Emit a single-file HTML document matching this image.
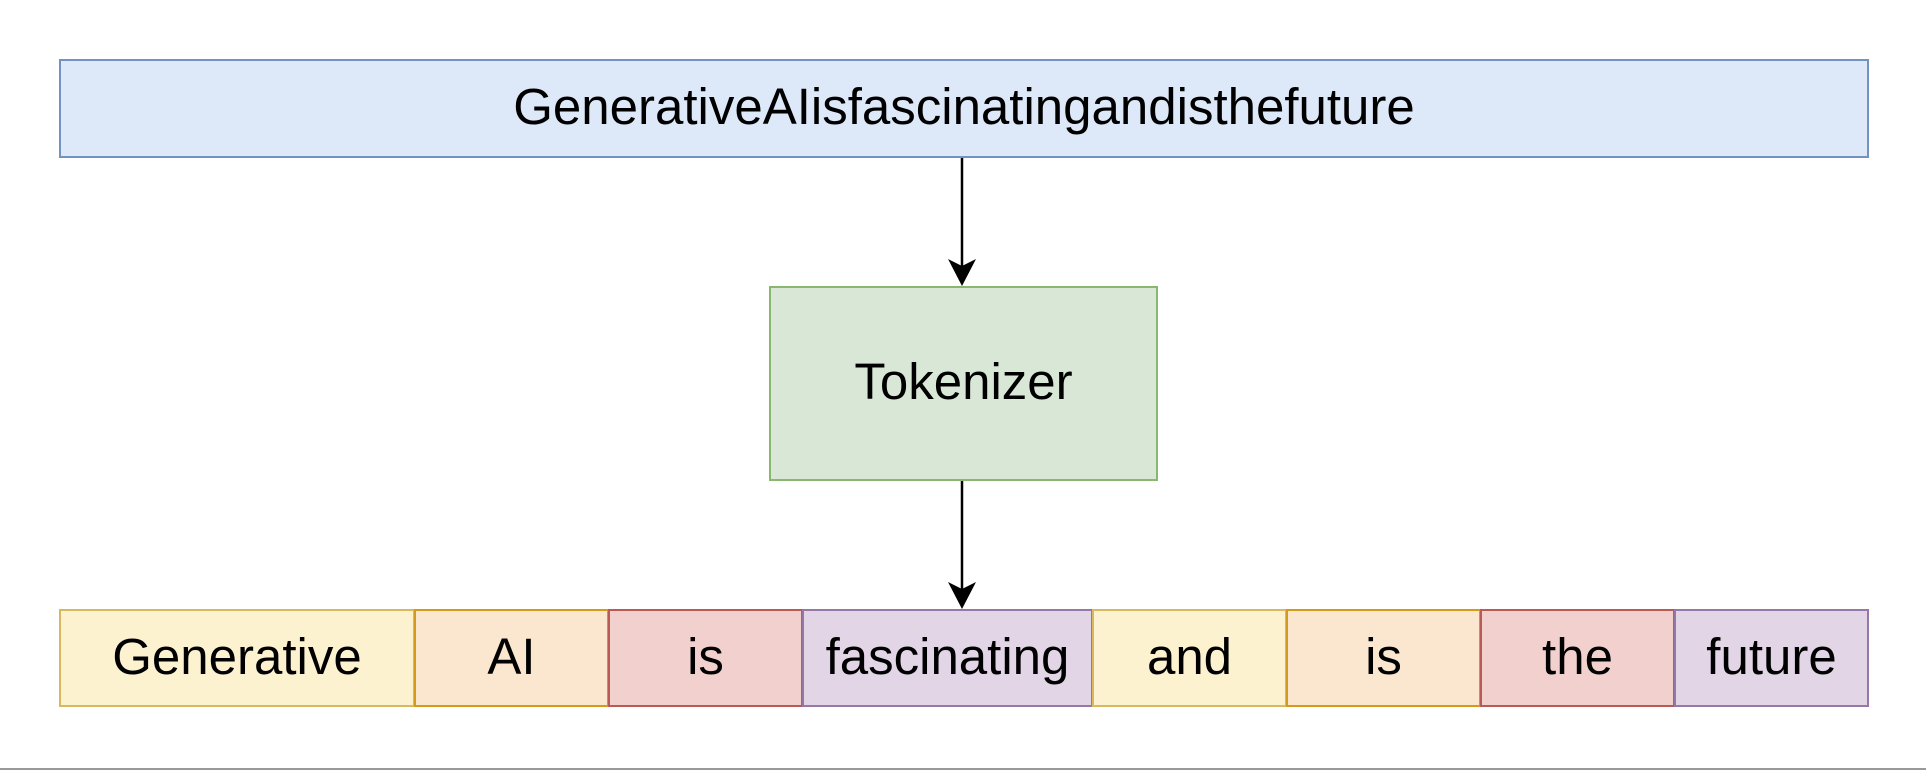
<!DOCTYPE html>
<html><head><style>
body{margin:0;width:1926px;height:770px;background:#fff;overflow:hidden;position:relative;font-family:"Liberation Sans",Arial,sans-serif;}
.b{position:absolute;box-sizing:border-box;border:2.5px solid;display:flex;align-items:center;justify-content:center;font-size:51px;color:#000;padding-bottom:4px;}
</style></head><body>
<div class="b" style="left:59px;top:59px;width:1810px;height:99px;background:#dde8f9;border-color:#7391c1;">GenerativeAIisfascinatingandisthefuture</div>
<div class="b" style="left:769px;top:286px;width:389px;height:195px;background:#d9e7d6;border-color:#8ab670;">Tokenizer</div>
<div class="b" style="left:59px;top:609px;width:356px;height:98px;background:#fdf2d0;border-color:#d8b961;">Generative</div>
<div class="b" style="left:414px;top:609px;width:195px;height:98px;background:#fbe6cf;border-color:#d69a1a;">AI</div>
<div class="b" style="left:608px;top:609px;width:195px;height:98px;background:#f2d0ce;border-color:#b95a55;">is</div>
<div class="b" style="left:802px;top:609px;width:291px;height:98px;background:#e1d5e6;border-color:#9678a7;">fascinating</div>
<div class="b" style="left:1092px;top:609px;width:195px;height:98px;background:#fdf2d0;border-color:#d8b961;">and</div>
<div class="b" style="left:1286px;top:609px;width:195px;height:98px;background:#fbe6cf;border-color:#d69a1a;">is</div>
<div class="b" style="left:1480px;top:609px;width:195px;height:98px;background:#f2d0ce;border-color:#b95a55;">the</div>
<div class="b" style="left:1674px;top:609px;width:195px;height:98px;background:#e1d5e6;border-color:#9678a7;">future</div>
<svg width="1926" height="770" style="position:absolute;left:0;top:0">
<line x1="962" y1="158" x2="962" y2="275" stroke="#000" stroke-width="2.5"/>
<path d="M962 286 L948 259 L962 266 L976 259 Z" fill="#000"/>
<line x1="962" y1="481" x2="962" y2="598" stroke="#000" stroke-width="2.5"/>
<path d="M962 609 L948 582 L962 589 L976 582 Z" fill="#000"/>
<line x1="0" y1="769" x2="1926" y2="769" stroke="#999" stroke-width="2"/>
</svg>
</body></html>
